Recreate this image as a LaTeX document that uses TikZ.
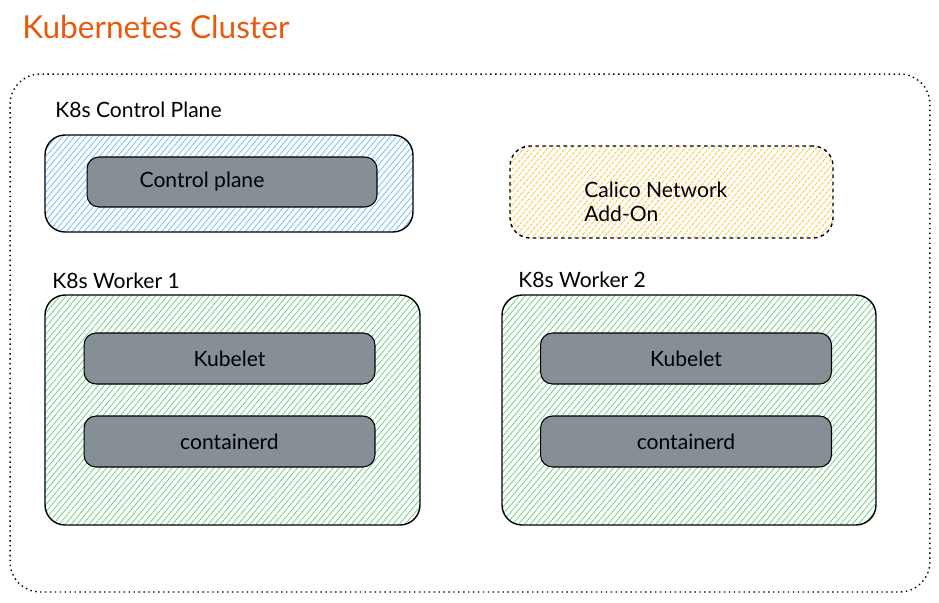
\documentclass[tikz,border=0pt]{standalone}
\usepackage{fontspec}
\setmainfont{Lato}
\usepackage{tikz}
\usetikzlibrary{patterns.meta}

\begin{document}
\begin{tikzpicture}[x=0.02cm,y=-0.02cm,
  group/.style={draw=black,line width=0.8pt,rounded corners=0.4cm,inner sep=0pt,pattern={Lines[angle=50,distance=2.6pt,line width=0.4pt]}},
  part/.style={draw=black,line width=0.6pt,fill=cpart,rounded corners=0.24cm,inner sep=0pt,minimum width=5.82cm,minimum height=1.02cm,font=\fontsize{12}{14}\selectfont},
  lbl/.style={anchor=west,inner sep=0pt,font=\fontsize{12}{14}\selectfont}]
\definecolor{ctitle}{rgb}{0.91,0.349,0.047}
\definecolor{cpart}{rgb}{0.525,0.557,0.588}
\definecolor{cblue}{rgb}{0.40,0.72,0.97}
\definecolor{cgreen}{rgb}{0.38,0.80,0.45}
\definecolor{cyellow}{rgb}{0.99,0.75,0.15}
%
\useasboundingbox (0,0) rectangle (939,602);
\node[lbl,text=ctitle,font=\fontsize{18}{21}\selectfont] (title) at (22,27) {Kubernetes Cluster};
\node[draw=black,line width=0.8pt,dotted,rounded corners=0.6cm,minimum width=18.4cm,minimum height=10.36cm] (cluster) at (470,333) {};
%
\node[lbl] (cpl) at (55,110) {K8s Control Plane};
\node[group,pattern color=cblue,minimum width=7.36cm,minimum height=1.94cm] (cp) at (229,183.5) {};
\node[part,minimum width=5.8cm,minimum height=1.0cm] (cpbox) at (232,182) {};
\node[inner sep=0pt,font=\fontsize{12}{14}\selectfont] (cptext) at (202,182) {Control plane};
%
\node[group,dash pattern=on 2pt off 2pt,pattern color=cyellow,minimum width=6.46cm,minimum height=1.84cm] (calico) at (671.5,192) {};
\node[lbl,align=left] (calicotext) at (584,202) {Calico Network\\Add-On};
%
\node[lbl] (w1l) at (52,281) {K8s Worker 1};
\node[group,pattern color=cgreen,minimum width=7.5cm,minimum height=4.6cm] (w1) at (232.5,410) {};
\node[part] (kubelet1) at (229.5,358.5) {Kubelet};
\node[part] (containerd1) at (229.5,441.5) {containerd};
%
\node[lbl] (w2l) at (518,280) {K8s Worker 2};
\node[group,pattern color=cgreen,minimum width=7.48cm,minimum height=4.6cm] (w2) at (689,410) {};
\node[part] (kubelet2) at (686,358.5) {Kubelet};
\node[part] (containerd2) at (686,441.5) {containerd};
%
\end{tikzpicture}
\end{document}
